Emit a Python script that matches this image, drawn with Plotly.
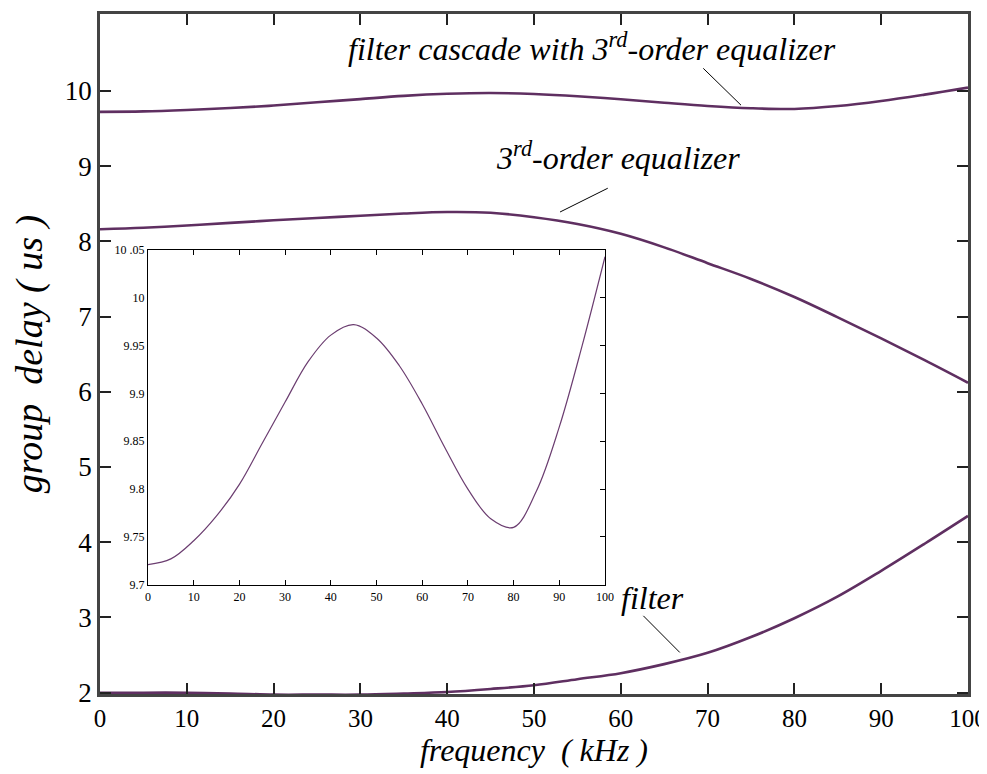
import plotly.graph_objects as go

# ---------------- data ----------------
freq = [0, 5, 10, 15, 20, 25, 30, 35, 40, 45, 50, 55, 60, 65, 70, 75, 80, 85, 90, 95, 100]

cascade = [9.721, 9.727, 9.746, 9.772, 9.805, 9.848, 9.891, 9.933, 9.961, 9.972, 9.958,
           9.929, 9.889, 9.843, 9.800, 9.769, 9.760, 9.798, 9.865, 9.950, 10.043]

equalizer = [8.16, 8.18, 8.21, 8.245, 8.28, 8.31, 8.34, 8.37, 8.39, 8.38, 8.32,
             8.23, 8.10, 7.92, 7.71, 7.50, 7.26, 6.99, 6.71, 6.42, 6.12]

filter_gd = [2.00, 2.00, 2.00, 1.99, 1.975, 1.975, 1.975, 1.99, 2.01, 2.05, 2.10,
             2.18, 2.26, 2.38, 2.53, 2.74, 2.99, 3.28, 3.62, 3.98, 4.35]

main_xticks = [0, 10, 20, 30, 40, 50, 60, 70, 80, 90, 100]
main_yticks = [2, 3, 4, 5, 6, 7, 8, 9, 10]
inset_xticks = [0, 10, 20, 30, 40, 50, 60, 70, 80, 90, 100]
inset_yticks = [9.7, 9.75, 9.8, 9.85, 9.9, 9.95, 10.0, 10.05]
inset_yticktext = ["9.7", "9.75", "9.8", "9.85", "9.9", "9.95", "10", "10 .05"]

label_cascade = "filter cascade with 3<sup>rd</sup>-order equalizer"
label_eq = "3<sup>rd</sup>-order equalizer"
label_filter = "filter"

# ---------------- styling ----------------
SERIF = "Liberation Serif"
LINE_COLOR = "#5f2f61"
AXIS_COLOR = "#444444"

fig = go.Figure()

for ys in (cascade, equalizer, filter_gd):
    fig.add_trace(go.Scatter(x=freq, y=ys, mode="lines", line=dict(color=LINE_COLOR, width=2.6, shape="spline"),
                             xaxis="x", yaxis="y", showlegend=False, hoverinfo="skip"))

fig.add_trace(go.Scatter(x=freq, y=cascade, mode="lines",
                         line=dict(color="#6b3d70", width=1.2, shape="spline"),
                         xaxis="x2", yaxis="y2", showlegend=False, hoverinfo="skip"))
fig.add_trace(go.Scatter(x=[None], y=[None], mode="lines", xaxis="x2", yaxis="y3",
                         showlegend=False, hoverinfo="skip"))

fig.update_layout(
    width=979, height=766,
    margin=dict(l=92, r=19, t=0, b=80),
    paper_bgcolor="white", plot_bgcolor="white",
    font=dict(family=SERIF, color="black"),
    xaxis=dict(
        domain=[0, 1], anchor="y", range=[0, 100], tickvals=main_xticks,
        ticks="inside", ticklen=11, tickwidth=2, tickcolor="#222222",
        showline=True, linecolor=AXIS_COLOR, linewidth=2.5, mirror="ticks",
        showgrid=False, zeroline=False, ticklabeloverflow="allow",
        tickfont=dict(family=SERIF, size=25),
        title=dict(text="frequency  ( kHz )", font=dict(family=SERIF, size=32, style="italic"), standoff=6),
    ),
    yaxis=dict(
        domain=[0, 1], anchor="x", range=[1.983, 11.022], tickvals=main_yticks,
        ticks="inside", ticklen=11, tickwidth=2, tickcolor="#222222",
        showline=True, linecolor=AXIS_COLOR, linewidth=2.5, mirror="ticks",
        showgrid=False, zeroline=False,
        tickfont=dict(family=SERIF, size=27),
        title=dict(text="group  delay ( us )", font=dict(family=SERIF, size=38, style="italic"), standoff=22),
    ),
    xaxis2=dict(
        domain=[0.0553, 0.5818], anchor="y2", range=[0, 100], tickvals=inset_xticks,
        ticks="inside", ticklen=5, tickwidth=1, tickcolor="black",
        showline=True, linecolor="black", linewidth=1, mirror="ticks",
        showgrid=False, zeroline=False,
        tickfont=dict(family=SERIF, size=12),
    ),
    yaxis2=dict(
        domain=[0.160, 0.6536], anchor="x2", range=[9.6995, 10.0505],
        tickvals=inset_yticks, ticktext=inset_yticktext,
        ticks="", showline=True, linecolor="black", linewidth=1, mirror=True,
        showgrid=False, zeroline=False,
        tickfont=dict(family=SERIF, size=12),
    ),
    yaxis3=dict(
        overlaying="y2", side="right", anchor="x2", range=[9.6995, 10.0505],
        tickvals=inset_yticks, showticklabels=False,
        ticks="inside", ticklen=5, tickwidth=1, tickcolor="black",
        showline=False, showgrid=False, zeroline=False,
    ),
)

# annotation texts
ann_font = dict(family=SERIF, size=32, style="italic", color="black")
fig.add_annotation(x=56.7, y=10.58, xref="x", yref="y", text=label_cascade, showarrow=False,
                   font=ann_font, xanchor="center", yanchor="middle")
fig.add_annotation(x=59.7, y=9.14, xref="x", yref="y", text=label_eq, showarrow=False,
                   font=ann_font, xanchor="center", yanchor="middle")
fig.add_annotation(x=63.7, y=3.26, xref="x", yref="y", text=label_filter, showarrow=False,
                   font=ann_font, xanchor="center", yanchor="middle")

# leader lines
for (x0, y0, x1, y1) in [(69.5, 10.30, 73.85, 9.81), (53.0, 8.39, 58.5, 8.706), (62.6, 3.022, 66.8, 2.535)]:
    fig.add_shape(type="line", xref="x", yref="y", x0=x0, y0=y0, x1=x1, y1=y1,
                  line=dict(color="black", width=1))

fig.write_html("out.html")
